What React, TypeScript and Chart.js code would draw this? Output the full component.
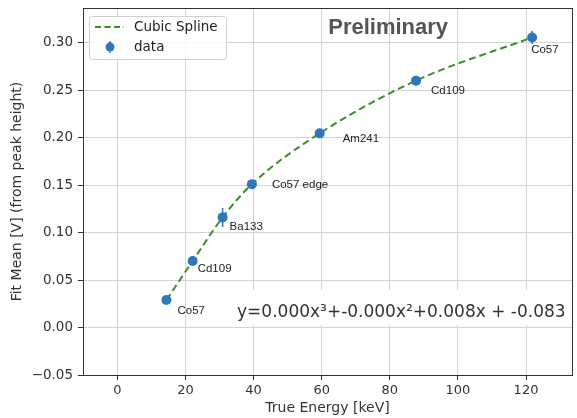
import React, { useEffect, useRef } from 'react';
import { Chart, registerables } from 'chart.js';

Chart.register(...registerables);

// ---- data ----
const energies = [14.4, 22.1, 30.9, 39.5, 59.4, 87.7, 121.8];
const fitMeans = [0.029, 0.070, 0.116, 0.151, 0.2045, 0.260, 0.3055];
const fitErrors = [0.002, 0.002, 0.010, 0.002, 0.002, 0.005, 0.007];
const sourceNames = ['Co57', 'Cd109', 'Ba133', 'Co57 edge', 'Am241', 'Cd109', 'Co57'];
const xTickValues = [0, 20, 40, 60, 80, 100, 120];
const yTickValues = [-0.05, 0.0, 0.05, 0.1, 0.15, 0.2, 0.25, 0.3];
const xRange = [-10.1, 133.5];
const yRange = [-0.05, 0.3365];
const equationParts = ['y=0.000x', '³', '+-0.000x', '²', '+0.008x + -0.083'];

// ---- styles ----
const BLUE = '#2f77bb';
const GREEN = '#3a8c2c';
const FRAME = '#333333';
const TICK_FONT = 'DejaVu Sans';
const labelOffsets = [[11, 11], [5, 8], [7, 9], [20, 1], [23, 5], [15, 10], [-1, 12]];

const overlayPlugin = {
  id: 'overlay',
  beforeDatasetsDraw(chart: any) {
    const { ctx, chartArea: a, scales } = chart;
    const xs = scales.x, ys = scales.y;
    ctx.save();
    const ex = a.left + 0.315 * (a.right - a.left);
    const ey = a.top + 0.842 * (a.bottom - a.top);
    ctx.fillStyle = '#ffffff';
    ctx.fillRect(ex - 6, ey - 27, 335, 35);
    ctx.strokeStyle = BLUE;
    ctx.lineWidth = 1.5;
    ctx.setLineDash([]);
    energies.forEach((e, i) => {
      const px = xs.getPixelForValue(e);
      const y1 = ys.getPixelForValue(fitMeans[i] - fitErrors[i]);
      const y2 = ys.getPixelForValue(fitMeans[i] + fitErrors[i]);
      ctx.beginPath();
      ctx.moveTo(px, y1);
      ctx.lineTo(px, y2);
      ctx.stroke();
    });
    ctx.restore();
  },
  afterDraw(chart: any) {
    const { ctx, chartArea: a, scales } = chart;
    const xs = scales.x, ys = scales.y;
    ctx.save();
    ctx.setLineDash([]);

    // point labels
    ctx.fillStyle = '#222';
    ctx.font = '11.5px "Liberation Sans", Arial, sans-serif';
    ctx.textBaseline = 'middle';
    ctx.textAlign = 'left';
    energies.forEach((e, i) => {
      const px = xs.getPixelForValue(e);
      const py = ys.getPixelForValue(fitMeans[i]);
      ctx.fillText(sourceNames[i], px + labelOffsets[i][0], py + labelOffsets[i][1]);
    });

    // Preliminary
    ctx.fillStyle = '#555';
    ctx.font = 'bold 22px "Liberation Sans", Arial, sans-serif';
    ctx.textAlign = 'center';
    ctx.textBaseline = 'alphabetic';
    ctx.fillText('Preliminary', a.left + 0.624 * (a.right - a.left), a.top + 0.071 * (a.bottom - a.top));

    // equation
    ctx.fillStyle = '#333';
    ctx.textAlign = 'left';
    let ex = a.left + 0.315 * (a.right - a.left);
    const ey = a.top + 0.842 * (a.bottom - a.top);
    ctx.font = '17px "DejaVu Sans"';
    equationParts.forEach((t) => {
      ctx.fillText(t, ex, ey);
      ex += ctx.measureText(t).width;
    });

    // legend
    const lx = 89.5, ly = 16.5, lw = 137, lh = 43;
    ctx.fillStyle = 'rgba(255,255,255,0.85)';
    ctx.strokeStyle = '#d0d0d0';
    ctx.lineWidth = 1;
    ctx.beginPath();
    if ((ctx as any).roundRect) (ctx as any).roundRect(lx, ly, lw, lh, 3);
    else ctx.rect(lx, ly, lw, lh);
    ctx.fill();
    ctx.stroke();
    ctx.strokeStyle = GREEN;
    ctx.lineWidth = 2;
    ctx.setLineDash([6, 3.5]);
    ctx.beginPath();
    ctx.moveTo(95, 27);
    ctx.lineTo(124, 27);
    ctx.stroke();
    ctx.setLineDash([]);
    ctx.strokeStyle = BLUE;
    ctx.lineWidth = 1.5;
    ctx.beginPath();
    ctx.moveTo(110, 41);
    ctx.lineTo(110, 53);
    ctx.stroke();
    ctx.fillStyle = BLUE;
    ctx.beginPath();
    ctx.arc(110, 47, 4.5, 0, Math.PI * 2);
    ctx.fill();
    ctx.fillStyle = '#222';
    ctx.font = '13.5px "DejaVu Sans"';
    ctx.textBaseline = 'middle';
    ctx.fillText('Cubic Spline', 134, 27);
    ctx.fillText('data', 134, 47);
    ctx.restore();
  },
};

const frameAxis = (position: string, range: number[], horizontal: boolean) => ({
  type: 'linear',
  position,
  min: range[0],
  max: range[1],
  display: true,
  ticks: { display: false },
  grid: { drawOnChartArea: false, drawTicks: false },
  border: { display: true, color: FRAME, width: 1 },
  afterFit: (s: any) => {
    if (horizontal) s.height = 0; else s.width = 0;
    s.paddingTop = 0; s.paddingBottom = 0; s.paddingLeft = 0; s.paddingRight = 0;
  },
});

export default function App() {
  const ref = useRef<HTMLCanvasElement>(null);
  useEffect(() => {
    document.body.style.margin = '0';
    const pts = energies.map((e, i) => ({ x: e, y: fitMeans[i] }));
    const chart = new Chart(ref.current as HTMLCanvasElement, {
      type: 'scatter',
      data: {
        datasets: [
          {
            label: 'data',
            data: pts,
            showLine: false,
            pointRadius: 5,
            pointHoverRadius: 5,
            pointBackgroundColor: BLUE,
            pointBorderColor: BLUE,
            pointBorderWidth: 0,
          },
          {
            label: 'Cubic Spline',
            data: pts,
            showLine: true,
            borderColor: GREEN,
            borderWidth: 2,
            borderDash: [7, 4],
            cubicInterpolationMode: 'monotone',
            pointRadius: 0,
            fill: false,
          } as any,
        ],
      },
      options: {
        responsive: false,
        animation: false,
        devicePixelRatio: 1,
        layout: { padding: { top: 8, right: 5, left: 0, bottom: 0 } },
        plugins: { legend: { display: false }, tooltip: { enabled: false } },
        scales: {
          x: {
            type: 'linear',
            position: 'bottom',
            min: xRange[0],
            max: xRange[1],
            afterBuildTicks: (s: any) => { s.ticks = xTickValues.map((v) => ({ value: v })); },
            afterFit: (s: any) => { s.height = 43; s.paddingLeft = 0; s.paddingRight = 0; },
            ticks: {
              color: '#333',
              font: { family: TICK_FONT, size: 13 },
              padding: 3,
              maxRotation: 0,
              callback: (v: any) => String(v),
            },
            grid: { color: '#d3d3d3', lineWidth: 1, tickColor: FRAME, tickLength: 5, drawTicks: true },
            border: { display: true, color: FRAME },
            title: {
              display: true,
              text: 'True Energy [keV]',
              color: '#333',
              font: { family: TICK_FONT, size: 14 },
              padding: { top: 0, bottom: 1 },
            },
          },
          y: {
            type: 'linear',
            position: 'left',
            min: yRange[0],
            max: yRange[1],
            afterBuildTicks: (s: any) => { s.ticks = yTickValues.map((v) => ({ value: v })); },
            afterFit: (s: any) => { s.width = 83; s.paddingTop = 0; s.paddingBottom = 0; },
            ticks: {
              color: '#333',
              font: { family: TICK_FONT, size: 13.5 },
              padding: 5,
              callback: (v: any) => (v < -1e-9 ? '\u2212' : '') + Math.abs(Number(v)).toFixed(2),
            },
            grid: { color: '#d3d3d3', lineWidth: 1, tickColor: FRAME, tickLength: 5, drawTicks: true },
            border: { display: true, color: FRAME },
            title: {
              display: true,
              text: 'Fit Mean [V] (from peak height)',
              color: '#333',
              font: { family: TICK_FONT, size: 14 },
              padding: { top: 9, bottom: 0 },
            },
          },
          xTop: frameAxis('top', xRange, true) as any,
          yRight: frameAxis('right', yRange, false) as any,
        },
      },
      plugins: [overlayPlugin],
    });
    return () => chart.destroy();
  }, []);
  return <canvas ref={ref} width={577} height={418} style={{ display: 'block' }} />;
}
